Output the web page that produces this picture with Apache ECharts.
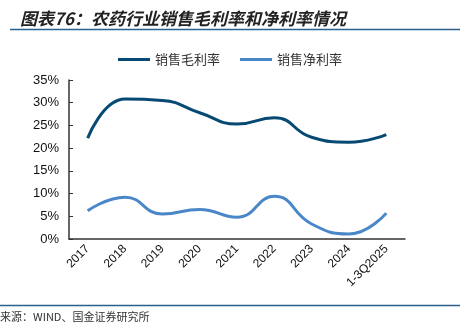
<!DOCTYPE html>
<html><head><meta charset="utf-8">
<script src="https://cdn.jsdelivr.net/npm/echarts@6/dist/echarts.min.js"></script>
<style>html,body{margin:0;padding:0;background:#fff;}#c{width:460px;height:333px;}</style>
</head><body><div id="c"></div>
<script>
const categories = ['2017','2018','2019','2020','2021','2022','2023','2024','1-3Q2025'];
const grossMargin = [22.2, 30.8, 30.5, 27.8, 25.3, 26.7, 22.4, 21.3, 23.0];
const netMargin = [6.2, 9.2, 5.5, 6.5, 4.8, 9.4, 3.3, 1.1, 5.7];
const seriesNames = ['销售毛利率', '销售净利率'];
const titleText = '图表76：农药行业销售毛利率和净利率情况';
const sourceText = '来源：WIND、国金证券研究所';

const chart = echarts.init(document.getElementById('c'), null, {renderer:'canvas'});
chart.setOption({
  animation:false,
  backgroundColor:'#fff',
  title:{text:titleText,left:15,top:5,textStyle:{fontFamily:'Noto Sans CJK SC',fontStyle:'italic',fontWeight:'bold',fontSize:17,color:'#222'}},
  legend:{top:48,left:'center',itemWidth:32,itemHeight:3,itemGap:20,icon:'rect',
    textStyle:{fontFamily:'Noto Sans CJK SC',fontSize:13,color:'#333'},data:seriesNames},
  grid:{left:69,right:55,top:80,bottom:94},
  xAxis:{type:'category',data:categories,boundaryGap:true,
    axisLine:{lineStyle:{color:'#333',width:1.5}},
    axisTick:{inside:true,length:4,lineStyle:{color:'#333'}},
    axisLabel:{rotate:45,fontFamily:'Liberation Sans',fontSize:12,color:'#111',margin:8,interval:0}},
  yAxis:{type:'value',min:0,max:35,interval:5,
    axisLine:{show:true,lineStyle:{color:'#333',width:1.5}},
    axisTick:{show:true,inside:true,length:4,lineStyle:{color:'#333'}},
    splitLine:{show:false},
    axisLabel:{formatter:'{value}%',fontFamily:'Liberation Sans',fontSize:13,color:'#111',margin:10}},
  series:[
    {name:seriesNames[0],type:'line',data:grossMargin,smooth:0.5,symbol:'none',lineStyle:{width:3,color:'#064a73'},itemStyle:{color:'#064a73'}},
    {name:seriesNames[1],type:'line',data:netMargin,smooth:0.5,symbol:'none',lineStyle:{width:3,color:'#4a87c8'},itemStyle:{color:'#4a87c8'}}
  ],
  graphic:[
    {type:'line',shape:{x1:10,y1:29.5,x2:460,y2:29.5},style:{stroke:'#2b5f8c',lineWidth:1.5}},
    {type:'line',shape:{x1:0,y1:305.5,x2:460,y2:305.5},style:{stroke:'#2b5f8c',lineWidth:1.5}},
    {type:'text',left:0,top:311,style:{text:sourceText,font:'11px "Noto Sans CJK SC"',fill:'#333'}}
  ]
});
</script></body></html>
